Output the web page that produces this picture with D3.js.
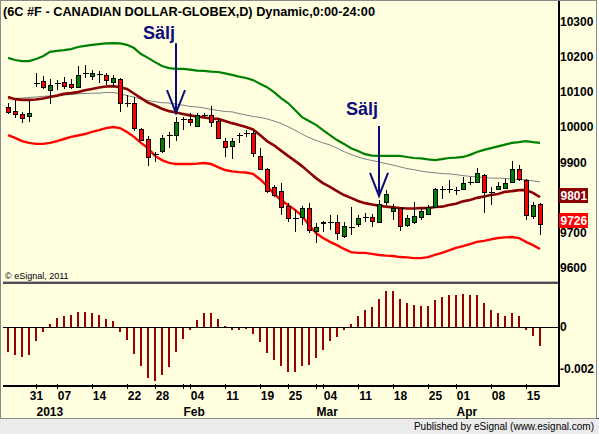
<!DOCTYPE html>
<html>
<head>
<meta charset="utf-8">
<title>6C #F - Canadian Dollar</title>
<style>
body { margin: 0; background: #fff; }
text { font-family: Arial, "Liberation Sans", sans-serif; fill: #000; }
.lbl { font-size: 12px; font-weight: bold; }
.crisp { shape-rendering: crispEdges; }
</style>
</head>
<body>
<script src="https://cdn.jsdelivr.net/npm/d3@7"></script>
<script>

// trading days shown on the chart
var dates = [
  "2012-12-24","2012-12-26","2012-12-27","2012-12-28","2012-12-31",
  "2013-01-02","2013-01-03","2013-01-04","2013-01-07","2013-01-08","2013-01-09","2013-01-10","2013-01-11",
  "2013-01-14","2013-01-15","2013-01-16","2013-01-17","2013-01-18","2013-01-22","2013-01-23","2013-01-24",
  "2013-01-25","2013-01-28","2013-01-29","2013-01-30","2013-01-31",
  "2013-02-01","2013-02-04","2013-02-05","2013-02-06","2013-02-07","2013-02-08","2013-02-11","2013-02-12",
  "2013-02-13","2013-02-14","2013-02-15","2013-02-19","2013-02-20","2013-02-21","2013-02-22","2013-02-25",
  "2013-02-26","2013-02-27","2013-02-28",
  "2013-03-01","2013-03-04","2013-03-05","2013-03-06","2013-03-07","2013-03-08","2013-03-11","2013-03-12",
  "2013-03-13","2013-03-14","2013-03-15","2013-03-18","2013-03-19","2013-03-20","2013-03-21","2013-03-22",
  "2013-03-25","2013-03-26","2013-03-27","2013-03-28",
  "2013-04-01","2013-04-02","2013-04-03","2013-04-04","2013-04-05","2013-04-08","2013-04-09","2013-04-10",
  "2013-04-11","2013-04-12","2013-04-15","2013-04-16"
];

var opens = [10057,10045,10037,10031,10126,10130,10105,10124,10127,10122,10113,10152,10144,10149,10147,10127,
  10136,10067,10068,9994,9966,9922,9932,9976,9977,10021,10022,10003,10033,10034,10017,9960,9946,9976,9982,9983,
  9917,9881,9830,9818,9776,9741,9744,9770,9705,9730,9729,9730,9690,9715,9724,9743,9744,9730,9787,9761,9770,
  9722,9730,9744,9753,9773,9823,9825,9822,9824,9843,9844,9864,9814,9824,9827,9844,9881,9850,9747,9781];
var highs = [10068,10076,10042,10076,10153,10144,10136,10133,10142,10136,10173,10176,10161,10159,10153,10147,
  10138,10090,10085,9997,9974,9929,9977,9986,10028,10028,10039,10039,10039,10059,10022,9969,9969,9983,9991,9991,
  9940,9883,9835,9841,9784,9764,9776,9784,9727,9733,9750,9750,9730,9773,9750,9756,9753,9793,9821,9781,9773,
  9750,9787,9770,9778,9827,9832,9849,9830,9858,9858,9883,9866,9830,9844,9852,9903,9892,9852,9787,9783];
var lows = [10037,10025,10011,10014,10113,10108,10065,10105,10108,10108,10110,10139,10133,10125,10119,10113,
  10042,10057,9988,9960,9889,9900,9926,9940,9960,9991,10003,10000,10025,10000,9966,9915,9909,9954,9971,9915,
  9878,9812,9801,9750,9730,9702,9722,9699,9671,9702,9707,9679,9685,9693,9716,9730,9716,9727,9778,9736,9705,
  9716,9724,9736,9750,9770,9795,9812,9807,9821,9835,9841,9756,9778,9821,9824,9841,9847,9736,9739,9693];
var closes = [10042,10037,10025,10039,10124,10113,10119,10126,10116,10113,10147,10154,10153,10151,10133,10139,
  10068,10069,9997,9963,9915,9924,9969,9978,10014,10023,10014,10034,10035,10014,9969,9943,9960,9978,9984,9926,
  9881,9818,9807,9773,9742,9743,9770,9707,9716,9727,9731,9699,9719,9717,9742,9745,9733,9781,9810,9770,9719,
  9742,9747,9761,9773,9824,9825,9823,9820,9841,9845,9869,9815,9816,9832,9841,9881,9852,9750,9778,9726];

// upper / lower envelope, fast and slow averages
var upperBand = [10196,10190,10187,10187,10193,10201,10213,10216,10218,10221,10227,10230,10233,10235,10237,10238,
  10237,10233,10224,10207,10196,10184,10173,10167,10165,10165,10163,10160,10159,10157,10156,10152,10148,10143,
  10139,10133,10123,10113,10099,10082,10068,10048,10028,10017,10006,9991,9977,9963,9952,9940,9932,9923,9919,
  9918,9918,9918,9918,9915,9912,9911,9908,9906,9909,9912,9913,9915,9921,9929,9935,9940,9945,9950,9955,9957,
  9960,9957,9955];
var lowerBand = [9977,9969,9960,9955,9952,9952,9955,9960,9966,9972,9976,9980,9986,9991,9997,10000,9997,9986,9972,
  9955,9940,9918,9906,9898,9895,9895,9895,9896,9898,9895,9886,9878,9874,9872,9871,9867,9852,9833,9810,9793,9779,
  9765,9748,9722,9699,9685,9674,9665,9654,9645,9643,9643,9640,9637,9635,9634,9631,9630,9628,9628,9631,9637,9643,
  9650,9657,9662,9668,9674,9677,9681,9685,9687,9688,9685,9674,9665,9654];
var fastMA = [10085,10079,10077,10077,10078,10081,10085,10089,10094,10096,10099,10104,10108,10112,10115,10116,
  10113,10108,10095,10082,10069,10061,10052,10045,10041,10037,10033,10030,10027,10024,10023,10017,10011,10006,
  10000,9993,9977,9960,9948,9933,9918,9904,9889,9872,9855,9841,9830,9818,9807,9799,9790,9784,9780,9777,9774,
  9772,9770,9769,9769,9770,9770,9773,9774,9779,9782,9789,9793,9799,9803,9807,9810,9816,9818,9821,9821,9813,9801];
var slowMA = [10079,10081,10082,10084,10085,10087,10088,10089,10091,10092,10094,10095,10096,10096,10098,10098,
  10094,10089,10085,10079,10075,10072,10069,10068,10065,10062,10058,10057,10054,10050,10047,10044,10043,10038,
  10034,10030,10027,10023,10017,10010,10001,9991,9980,9970,9962,9955,9949,9940,9930,9922,9915,9909,9905,9901,
  9896,9892,9887,9882,9879,9875,9872,9870,9868,9867,9865,9862,9860,9858,9857,9855,9855,9854,9852,9851,9850,
  9847,9844];

// lower panel oscillator
var osc = [-0.00118,-0.00132,-0.00141,-0.00132,-0.00065,-0.00022,0.00014,0.00043,0.00052,0.00057,0.00071,0.00071,
  0.00067,0.00057,0.00038,0.00029,-0.00022,-0.0006,-0.00127,-0.00184,-0.00241,-0.00256,-0.00227,-0.00189,-0.00118,
  -0.00056,-0.00013,0.00033,0.00067,0.00067,0.00038,0.00005,-0.00013,-0.00013,-0.00008,-0.00032,-0.0007,-0.00122,
  -0.00156,-0.00184,-0.00213,-0.00213,-0.00184,-0.00179,-0.00146,-0.00108,-0.00065,-0.00046,-0.00013,0.00014,
  0.00052,0.00081,0.00095,0.00133,0.00171,0.00171,0.00133,0.00114,0.00105,0.001,0.001,0.00129,0.00143,0.00152,
  0.00152,0.00157,0.00152,0.00152,0.00114,0.00081,0.00067,0.00052,0.00067,0.00052,-0.00013,-0.00041,-0.00089];

var priceTicks = [9600, 9700, 9800, 9900, 10000, 10100, 10200, 10300];
var oscTicks = [0, -0.002];
var oscTickText = ["0", "-0.002"];

var weekDates = ["2012-12-31","2013-01-07","2013-01-14","2013-01-22","2013-01-28","2013-02-04","2013-02-11",
  "2013-02-19","2013-02-25","2013-03-04","2013-03-11","2013-03-18","2013-03-25","2013-04-01","2013-04-08","2013-04-15"];
var tickDates = ["2012-12-31","2013-01-04","2013-01-11","2013-01-18","2013-01-25","2013-01-31","2013-02-01",
  "2013-02-08","2013-02-15","2013-02-22","2013-02-28","2013-03-01","2013-03-08","2013-03-15","2013-03-22",
  "2013-03-28","2013-04-05","2013-04-12"];
var monthDates = ["2013-01-02","2013-02-01","2013-03-01","2013-04-01"];
var monthNames = ["2013", "Feb", "Mar", "Apr"];

var signalDates = ["2013-01-30", "2013-03-13"];
var signalText = "Sälj";

var width = 599, height = 434;
var axisX = 559, left = 3;

var svg = d3.select("body").append("svg")
    .attr("width", width)
    .attr("height", height);

// background and frame
svg.append("rect").attr("x", 0).attr("y", 0).attr("width", 597).attr("height", 418)
    .attr("fill", "#ffffe0");
svg.append("rect").attr("x", 0).attr("y", 418).attr("width", width).attr("height", 16)
    .attr("fill", "#ececec");
svg.append("line").attr("class", "crisp").attr("x1", 0).attr("x2", width).attr("y1", 418.5).attr("y2", 418.5)
    .attr("stroke", "#404040");
svg.append("rect").attr("class", "crisp").attr("x", 0.5).attr("y", 0.5).attr("width", 596).attr("height", 418)
    .attr("fill", "none").attr("stroke", "#8a8a8a");

var x = d3.scalePoint().domain(dates).range([8, 540]);
var y = d3.scaleLinear().domain([9600, 10300]).range([268, 21.25]);
var yOsc = d3.scaleLinear().domain([-0.002, 0]).range([369, 327]);

function px(v) { return Math.round(v) + 0.5; }

var bars = dates.map(function(d, i) {
  return {date: d, open: opens[i], high: highs[i], low: lows[i], close: closes[i], osc: osc[i]};
});

// studies
function series(values) {
  return d3.line()
      .x(function(d, i) { return x(dates[i]); })
      .y(function(d) { return y(d); })(values);
}

svg.append("path").attr("d", series(slowMA))
    .attr("fill", "none").attr("stroke", "#808080").attr("stroke-width", 1);
svg.append("path").attr("d", series(upperBand))
    .attr("fill", "none").attr("stroke", "#008000").attr("stroke-width", 2.2);
svg.append("path").attr("d", series(lowerBand))
    .attr("fill", "none").attr("stroke", "#ff0000").attr("stroke-width", 2.4);
svg.append("path").attr("d", series(fastMA))
    .attr("fill", "none").attr("stroke", "#8b0000").attr("stroke-width", 2.6);

// candles
var candle = svg.append("g").attr("class", "crisp")
    .selectAll("g")
    .data(bars)
    .enter().append("g");

candle.append("line")
    .attr("x1", function(d) { return px(x(d.date)); })
    .attr("x2", function(d) { return px(x(d.date)); })
    .attr("y1", function(d) { return Math.round(y(d.high)); })
    .attr("y2", function(d) { return Math.round(y(d.low)); })
    .attr("stroke", "#000");

candle.filter(function(d) { return Math.abs(d.close - d.open) < 3; })
    .append("line")
    .attr("x1", function(d) { return px(x(d.date)) - 3; })
    .attr("x2", function(d) { return px(x(d.date)) + 3; })
    .attr("y1", function(d) { return px(y(d.close)); })
    .attr("y2", function(d) { return px(y(d.close)); })
    .attr("stroke", "#000");

candle.filter(function(d) { return Math.abs(d.close - d.open) >= 3; })
    .append("rect")
    .attr("x", function(d) { return px(x(d.date)) - 2; })
    .attr("width", 4)
    .attr("y", function(d) { return px(y(Math.max(d.open, d.close))); })
    .attr("height", function(d) {
      return Math.max(1, Math.round(y(Math.min(d.open, d.close))) - Math.round(y(Math.max(d.open, d.close))));
    })
    .attr("fill", function(d) { return d.close > d.open ? "#008000" : "#ff0000"; })
    .attr("stroke", "#000");

// sell signals
signalDates.forEach(function(sd, i) {
  var b = bars[dates.indexOf(sd)];
  var ax = px(x(sd)) - 0.5;
  var tip = y(b.high) - 4;
  var top = tip - 70;
  var gap = i === 0 ? 4 : 11;
  var g = svg.append("g").attr("stroke", "#0c0c7a").attr("stroke-width", 2).attr("fill", "none");
  g.append("line").attr("x1", ax).attr("x2", ax).attr("y1", top).attr("y2", tip);
  g.append("path").attr("d", "M" + (ax - 9) + "," + (tip - 23) + "L" + ax + "," + tip + "L" + (ax + 9) + "," + (tip - 23));
  svg.append("text")
      .attr("x", ax - 1)
      .attr("y", top - gap)
      .attr("text-anchor", "end")
      .style("font-size", "18px")
      .style("font-weight", "bold")
      .style("fill", "#0c0c7a")
      .text(signalText);
});

// oscillator histogram
svg.append("g").attr("class", "crisp")
    .selectAll("rect")
    .data(bars)
    .enter().append("rect")
    .attr("x", function(d) { return Math.round(x(d.date)) - 1; })
    .attr("width", 2)
    .attr("y", function(d) { return Math.round(Math.min(yOsc(d.osc), yOsc(0))); })
    .attr("height", function(d) { return Math.round(Math.abs(yOsc(d.osc) - yOsc(0))); })
    .attr("fill", "#990000");

svg.append("line").attr("class", "crisp")
    .attr("x1", left).attr("x2", axisX).attr("y1", px(yOsc(0)) - 0.5).attr("y2", px(yOsc(0)) - 0.5)
    .attr("stroke", "#000");

// panel separator, axes
svg.append("line").attr("class", "crisp")
    .attr("x1", left).attr("x2", axisX).attr("y1", 281.5).attr("y2", 281.5)
    .attr("stroke", "#b4b4b4");
svg.append("line").attr("class", "crisp")
    .attr("x1", left).attr("x2", axisX).attr("y1", 283).attr("y2", 283)
    .attr("stroke", "#505050").attr("stroke-width", 2);
svg.append("line").attr("class", "crisp")
    .attr("x1", left).attr("x2", axisX).attr("y1", 386).attr("y2", 386)
    .attr("stroke", "#000").attr("stroke-width", 2);
svg.append("line").attr("class", "crisp")
    .attr("x1", axisX).attr("x2", axisX).attr("y1", 1).attr("y2", 387)
    .attr("stroke", "#000").attr("stroke-width", 2);

svg.append("g").selectAll("line")
    .data(tickDates)
    .enter().append("line").attr("class", "crisp")
    .attr("x1", function(d) { return px(x(d)); })
    .attr("x2", function(d) { return px(x(d)); })
    .attr("y1", 384).attr("y2", 389)
    .attr("stroke", "#000");

svg.append("g").selectAll("text")
    .data(weekDates)
    .enter().append("text")
    .attr("class", "lbl")
    .attr("x", function(d) { return x(d) + 0.5; })
    .attr("y", 400)
    .attr("text-anchor", "middle")
    .text(function(d) { return d.slice(8); });

svg.append("g").selectAll("text")
    .data(monthDates)
    .enter().append("text")
    .attr("class", "lbl")
    .attr("x", function(d) { return x(d) - 6.5; })
    .attr("y", 416)
    .text(function(d, i) { return monthNames[i]; });

// last value markers
var markers = [
  {value: fastMA[fastMA.length - 1], fill: "#8b0000", lift: 9},
  {value: closes[closes.length - 1], fill: "#ff0000", lift: 11}
];

// price labels hidden under a marker box are not drawn (as in the original)
svg.append("g").selectAll("text")
    .data(priceTicks.filter(function(p) {
      return markers.every(function(m) { return Math.abs(y(p) - y(m.value)) > 8; });
    }))
    .enter().append("text")
    .attr("class", "lbl")
    .attr("x", axisX + 1)
    .attr("y", function(d) { return y(d); })
    .attr("dy", "0.36em")
    .text(function(d) { return d; });

svg.append("g").selectAll("text")
    .data(oscTicks)
    .enter().append("text")
    .attr("class", "lbl")
    .attr("x", axisX + 1)
    .attr("y", function(d) { return yOsc(d); })
    .attr("dy", "0.36em")
    .text(function(d, i) { return oscTickText[i]; });

var mk = svg.append("g").selectAll("g")
    .data(markers)
    .enter().append("g");
mk.append("rect").attr("class", "crisp")
    .attr("x", axisX)
    .attr("y", function(d) { return Math.round(y(d.value)) - d.lift; })
    .attr("width", 29)
    .attr("height", 15)
    .attr("fill", function(d) { return d.fill; });
mk.append("text")
    .attr("class", "lbl")
    .attr("x", axisX + 1.5)
    .attr("y", function(d) { return Math.round(y(d.value)) - d.lift + 7.5; })
    .attr("dy", "0.36em")
    .style("fill", "#fff")
    .text(function(d) { return d.value; });

// texts
svg.append("text")
    .attr("x", 3)
    .attr("y", 16)
    .attr("textLength", 372)
    .attr("lengthAdjust", "spacingAndGlyphs")
    .style("font-size", "13px")
    .style("font-weight", "bold")
    .text("(6C #F - CANADIAN DOLLAR-GLOBEX,D) Dynamic,0:00-24:00");

svg.append("text")
    .attr("x", 5)
    .attr("y", 279)
    .style("font-size", "9px")
    .text("© eSignal, 2011");

svg.append("text")
    .attr("x", 594)
    .attr("y", 430)
    .attr("text-anchor", "end")
    .style("font-size", "10px")
    .text("Published by eSignal (www.esignal.com)");

</script>
</body>
</html>
